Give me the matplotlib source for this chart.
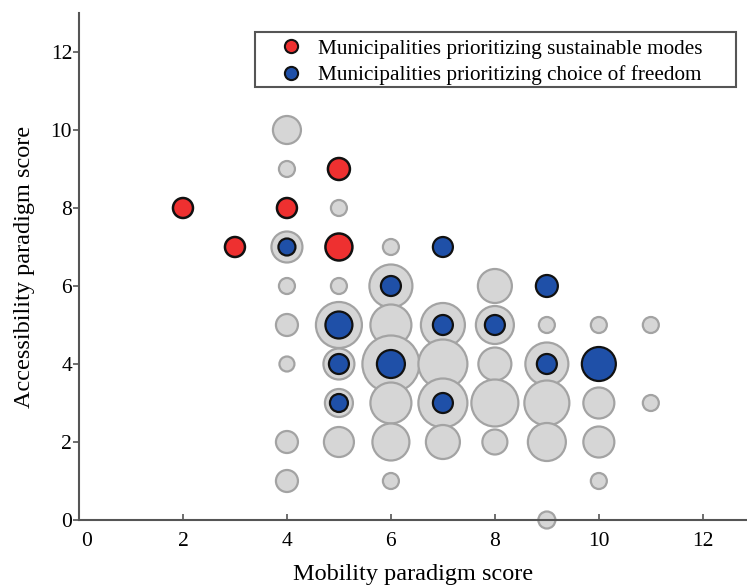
import matplotlib
matplotlib.use("Agg")
import matplotlib.pyplot as plt
from matplotlib.lines import Line2D
from matplotlib.patches import Rectangle
from matplotlib.transforms import ScaledTranslation
import numpy as np

plt.rcParams["font.family"] = ["Liberation Serif", "DejaVu Serif"]

# grey bubbles: all municipalities (x, y, bubble diameter)
gray_x = [4, 4, 4, 4, 4, 4, 4, 4,
          5, 5, 5, 5, 5, 5,
          6, 6, 6, 6, 6, 6, 6,
          7, 7, 7, 7,
          8, 8, 8, 8, 8,
          9, 9, 9, 9, 9,
          10, 10, 10, 10,
          11, 11]
gray_y = [10, 9, 7, 6, 5, 4, 2, 1,
          8, 6, 5, 4, 3, 2,
          7, 6, 5, 4, 3, 2, 1,
          5, 4, 3, 2,
          6, 5, 4, 3, 2,
          5, 4, 3, 2, 0,
          5, 3, 2, 1,
          5, 3]
gray_d = [28, 16, 31, 16, 22, 15, 22, 22,
          16, 16, 46, 31, 28, 30,
          16, 43, 41, 57, 41, 37, 16,
          44, 49, 49, 34,
          34, 38, 33, 47, 25,
          16, 43, 45, 38, 17,
          16, 31, 31, 16,
          16, 16]

# red: municipalities prioritizing sustainable modes
red_x = [2, 3, 4, 5, 5]
red_y = [8, 7, 8, 9, 7]
red_d = [20, 20, 20, 22, 27]

# blue: municipalities prioritizing choice of freedom
blue_x = [4, 5, 5, 5, 6, 6, 7, 7, 7, 8, 9, 9, 10]
blue_y = [7, 5, 4, 3, 6, 4, 7, 5, 3, 5, 6, 4, 4]
blue_d = [17, 27, 20, 18, 20, 28, 20, 20, 20, 20, 22, 20, 34]

legend_labels = ["Municipalities prioritizing sustainable modes",
                 "Municipalities prioritizing choice of freedom"]

RED = "#ee3030"
BLUE = "#1f50a8"


def px_area(d):
    # diameter in pixels (dpi 100) -> scatter area in points^2
    return (np.asarray(d) * 0.72) ** 2


fig = plt.figure(figsize=(7.47, 5.86), dpi=100)
ax = fig.add_axes([79 / 747, 66 / 586, 668 / 747, 507 / 586])

ax.scatter(gray_x, gray_y, s=px_area(gray_d), facecolor="#d6d6d6",
           edgecolor="#a3a3a3", linewidth=1.6, zorder=2, clip_on=False)
ax.scatter(red_x, red_y, s=px_area(red_d), facecolor=RED,
           edgecolor="#111111", linewidth=1.8, zorder=3, clip_on=False)
ax.scatter(blue_x, blue_y, s=px_area(blue_d), facecolor=BLUE,
           edgecolor="#111111", linewidth=1.6, zorder=3, clip_on=False)

ax.set_xlim(0, 12.85)
ax.set_ylim(0, 13)
ax.set_xticks([0, 2, 4, 6, 8, 10, 12])
ax.set_yticks([0, 2, 4, 6, 8, 10, 12])

for side in ("top", "right"):
    ax.spines[side].set_visible(False)
for side in ("left", "bottom"):
    ax.spines[side].set_color("#555555")
    ax.spines[side].set_linewidth(1.5)

ax.tick_params(axis="x", direction="in", length=4, width=1.2, color="#555555",
               labelsize=15.5, pad=9)
ax.tick_params(axis="y", direction="out", length=4, width=1.2, color="#555555",
               labelsize=15.5, pad=1)
# the x "0" label sits a bit right of its tick in the original
lbl0 = ax.get_xticklabels()[0]
lbl0.set_transform(lbl0.get_transform() + ScaledTranslation(8 / 100, 0, fig.dpi_scale_trans))

ax.set_xlabel("Mobility paradigm score", fontsize=17.5, labelpad=9)
ax.set_ylabel("Accessibility paradigm score", fontsize=17.5, labelpad=11)

handles = [
    Line2D([], [], linestyle="none", marker="o", markersize=9.5,
           markerfacecolor=RED, markeredgecolor="#111111", markeredgewidth=1.5),
    Line2D([], [], linestyle="none", marker="o", markersize=9.5,
           markerfacecolor=BLUE, markeredgecolor="#111111", markeredgewidth=1.5),
]
fig.legend(handles, legend_labels, loc="upper left",
           bbox_to_anchor=(280 / 747, 1 - 39 / 586), fontsize=15.3,
           frameon=False, handlelength=1.0, handletextpad=0.8,
           borderpad=0, labelspacing=0.3, borderaxespad=0)
# legend box, wider than the text as in the original
fig.patches.append(Rectangle((255 / 747, 1 - 87 / 586), 481 / 747, 55 / 586,
                             transform=fig.transFigure, fill=False,
                             edgecolor="#555555", linewidth=1.5))

fig.savefig("out.png", dpi=100)
